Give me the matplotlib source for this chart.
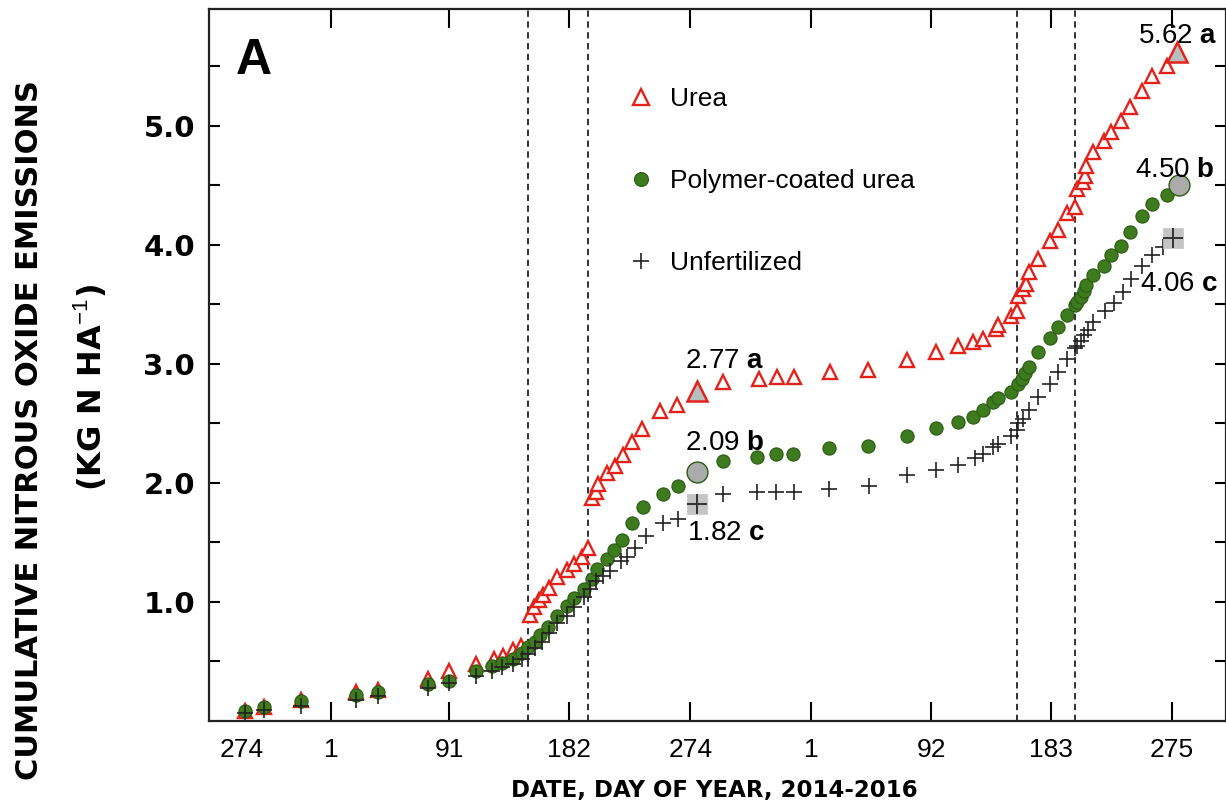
import matplotlib
matplotlib.use("Agg")
import matplotlib.pyplot as plt
from matplotlib.lines import Line2D

plt.rcParams['mathtext.fontset'] = 'custom'
plt.rcParams['mathtext.rm'] = 'Liberation Sans'
plt.rcParams['mathtext.bf'] = 'Liberation Sans:bold'

# x = days after 1 Oct 2014 (DOY 274), y = cumulative N2O (kg N/ha)
urea_day = [27, 41, 69, 111, 128, 166, 182, 202, 216, 223, 230, 236,
            243, 246, 250, 253, 258, 264, 271, 277, 283, 287,
            290, 293, 295, 302, 308, 314, 321, 328, 342, 355,
            390, 417, 431, 444, 471, 500, 530, 552, 568, 580, 587, 597, 599, 609, 613,
            614, 618, 620, 622, 629, 638, 644, 651, 657,
            659, 663, 665, 666, 671, 679, 685, 692, 699, 708, 716, 727]
urea_val = [0.08, 0.12, 0.18, 0.24, 0.26, 0.35, 0.42, 0.48, 0.52, 0.55, 0.60, 0.63,
            0.89, 0.96, 1.02, 1.06, 1.12, 1.21, 1.27, 1.32, 1.38, 1.45,
            1.87, 1.92, 1.99, 2.08, 2.14, 2.23, 2.34, 2.45, 2.60, 2.65,
            2.85, 2.87, 2.89, 2.89, 2.93, 2.95, 3.03, 3.10, 3.15, 3.18, 3.21, 3.29, 3.33, 3.40, 3.44,
            3.57, 3.63, 3.67, 3.77, 3.88, 4.03, 4.12, 4.27, 4.32,
            4.47, 4.53, 4.58, 4.66, 4.78, 4.87, 4.95, 5.04, 5.16, 5.29, 5.42, 5.50]

pcu_day = [27, 41, 69, 111, 128, 166, 182, 202, 214, 222, 230, 237, 242,
           247, 251, 257, 264, 271, 277, 284, 290, 294, 302, 307, 313, 321, 329, 344, 356,
           390, 416, 430, 443, 470, 500, 530, 552, 568, 580, 587, 595, 599, 609,
           614, 617, 619, 622, 629, 638, 644, 651, 657, 659, 662, 664, 666,
           671, 679, 685, 692, 699, 708, 716, 727]
pcu_val = [0.08, 0.12, 0.17, 0.22, 0.24, 0.31, 0.34, 0.42, 0.46, 0.49, 0.52, 0.57, 0.62,
           0.66, 0.72, 0.79, 0.88, 0.97, 1.03, 1.11, 1.19, 1.28, 1.36, 1.44, 1.52, 1.66, 1.80, 1.91, 1.97,
           2.18, 2.22, 2.24, 2.24, 2.29, 2.31, 2.39, 2.46, 2.51, 2.55, 2.61, 2.68, 2.71, 2.76,
           2.83, 2.87, 2.92, 2.97, 3.10, 3.22, 3.31, 3.41, 3.49, 3.52, 3.56, 3.61, 3.66,
           3.75, 3.82, 3.91, 3.99, 4.11, 4.24, 4.34, 4.42]

unf_day = [27, 41, 69, 111, 128, 166, 182, 202, 214, 222, 230, 237, 242,
           247, 252, 258, 264, 271, 277, 284, 289, 293, 299, 304, 312, 317, 323, 331, 344, 356,
           390, 416, 430, 444, 470, 501, 530, 552, 568, 581, 587, 595, 599, 609, 613,
           614, 618, 622, 629, 638, 644, 651, 657, 659, 662, 664, 667,
           671, 680, 687, 694, 700, 708, 716, 724]
unf_val = [0.07, 0.09, 0.13, 0.18, 0.21, 0.28, 0.32, 0.38, 0.42, 0.45, 0.48, 0.52, 0.56,
           0.61, 0.66, 0.74, 0.82, 0.88, 0.96, 1.04, 1.11, 1.18, 1.22, 1.26, 1.34, 1.38, 1.45, 1.55, 1.66, 1.70,
           1.91, 1.92, 1.92, 1.92, 1.95, 1.97, 2.07, 2.11, 2.15, 2.21, 2.24, 2.30, 2.33, 2.39, 2.44,
           2.50, 2.54, 2.61, 2.72, 2.83, 2.93, 3.04, 3.13, 3.15, 3.19, 3.24, 3.28,
           3.35, 3.44, 3.51, 3.60, 3.71, 3.82, 3.91, 3.98]

# season totals (end of each year) with significance letters
urea_end_day = [370, 735]
urea_end_val = [2.77, 5.62]
urea_letters = ['a', 'a']
pcu_end_day = [370, 736]
pcu_end_val = [2.09, 4.50]
pcu_letters = ['b', 'b']
unf_end_day = [370, 732]
unf_end_val = [1.82, 4.06]
unf_letters = ['c', 'c']

# fertilizer application dates
event_days = [242, 287, 613, 657]

tick_pos = [92, 182, 273, 365, 457, 548, 639, 731]
tick_lab = ['1', '91', '182', '274', '1', '92', '183', '275']

red = '#e3231b'
green = '#3e7a1e'
green_edge = '#2c5a14'
grey = '#ababab'

fig = plt.figure(figsize=(12.26, 8.07), dpi=100)
ax = fig.add_axes([209/1226, 1 - 721/807, 1017/1226, 712/807])

for d in event_days:
    ax.axvline(d, color='#222222', lw=1.3, ls=(0, (3.5, 2.5)), zorder=1)

ax.plot(urea_day, urea_val, ls='none', marker='^', ms=10, mfc='white', mec=red, mew=1.7, zorder=3)
ax.plot(pcu_day, pcu_val, ls='none', marker='o', ms=9.5, mfc=green, mec=green_edge, mew=0.8, zorder=4)
ax.plot(unf_day, unf_val, ls='none', marker='+', ms=11, mec='#222222', mew=1.2, zorder=5)

# end-of-season markers
ax.plot(urea_end_day, urea_end_val, ls='none', marker='^', ms=15, mfc='#b5bfc2', mec=red, mew=1.8, zorder=6)
ax.plot(pcu_end_day, pcu_end_val, ls='none', marker='o', ms=15, mfc=grey, mec=green_edge, mew=1.0, zorder=6)
ax.plot(unf_end_day, unf_end_val, ls='none', marker='s', ms=15, mfc='#c4c4c4', mec='#c4c4c4', mew=0.5, zorder=6)
ax.plot(unf_end_day, unf_end_val, ls='none', marker='+', ms=15, mec='#333333', mew=1.4, zorder=7)

# value labels
lab_fs = 20
offsets = {
    'urea': [(-12, 30), (-39, 16)],
    'pcu': [(-12, 29), (-44, 15)],
    'unf': [(-10, -29), (-33, -46)],
}
for key, days, vals, lets in [('urea', urea_end_day, urea_end_val, urea_letters),
                              ('pcu', pcu_end_day, pcu_end_val, pcu_letters),
                              ('unf', unf_end_day, unf_end_val, unf_letters)]:
    for (d, v, l, off) in zip(days, vals, lets, offsets[key]):
        ax.annotate(f"{v:.2f} $\\mathbf{{{l}}}$", xy=(d, v), xytext=off,
                    textcoords='offset pixels', ha='left', va='center',
                    fontsize=lab_fs, family='Liberation Sans', zorder=8)

ax.set_xlim(-0.7, 772)
ax.set_ylim(0, 5.98)

ax.set_xticks(tick_pos, labels=tick_lab)
ax.set_xticks([24], labels=['274'], minor=True)
ax.set_yticks([1, 2, 3, 4, 5], labels=['1.0', '2.0', '3.0', '4.0', '5.0'])
ax.set_yticks([0.5, 1.5, 2.5, 3.5, 4.5, 5.5], minor=True)

ax.tick_params(axis='x', which='major', direction='in', length=14, width=1.5,
               top=True, pad=12, labelsize=19)
ax.tick_params(axis='x', which='minor', length=0, pad=12, labelsize=19)
ax.tick_params(axis='y', which='both', direction='in', length=8, width=1.5,
               right=True, pad=10, labelsize=21)
for lab in ax.get_xticklabels(which='both'):
    lab.set_family(['Liberation Sans Narrow', 'Liberation Sans'])
for lab in ax.get_yticklabels():
    lab.set_family('DejaVu Sans')
    lab.set_fontweight('bold')

for s in ax.spines.values():
    s.set_linewidth(1.6)
    s.set_color('#222222')

ax.text(0.026, 0.927, 'A', transform=ax.transAxes, fontsize=36, fontweight='bold',
        family='Liberation Sans', ha='left', va='center')

handles = [
    Line2D([], [], ls='none', marker='^', ms=11, mfc='white', mec=red, mew=1.7),
    Line2D([], [], ls='none', marker='o', ms=10, mfc=green, mec=green_edge, mew=0.8),
    Line2D([], [], ls='none', marker='+', ms=11, mec='#222222', mew=1.2),
]
ax.legend(handles, ['Urea', 'Polymer-coated urea', 'Unfertilized'],
          loc='upper left', bbox_to_anchor=((628 - 209) / 1017, (721 - 87) / 712),
          frameon=False, prop={'family': 'Liberation Sans', 'size': 19},
          handlelength=1.0, handletextpad=0.6, labelspacing=2.2, borderpad=0, borderaxespad=0)

fig.text(30/1226, 1 - 430/807, 'CUMULATIVE NITROUS OXIDE EMISSIONS', rotation=90,
         ha='center', va='center', fontsize=22, fontweight='bold', family='DejaVu Sans')
fig.text(90/1226, 1 - 388/807, '(KG N HA$^{-1}$)', rotation=90,
         ha='center', va='center', fontsize=23, fontweight='bold', family='DejaVu Sans')
fig.text(714/1226, 1 - 790/807, 'DATE, DAY OF YEAR, 2014-2016',
         ha='center', va='center', fontsize=16.5, fontweight='bold', family='DejaVu Sans')

fig.savefig('out.png', dpi=100)
